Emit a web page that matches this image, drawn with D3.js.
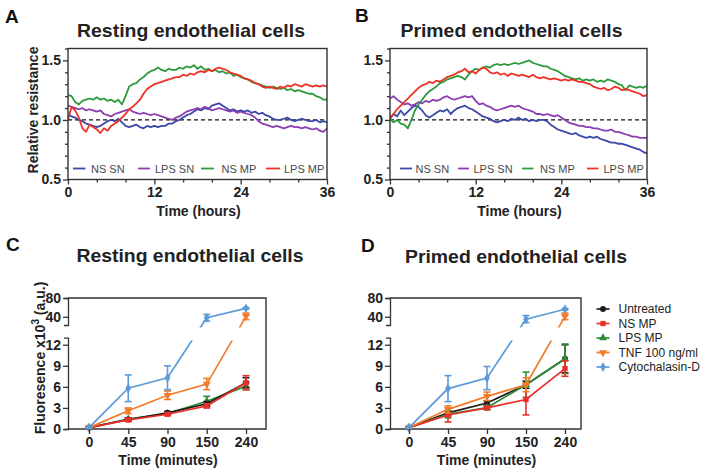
<!DOCTYPE html>
<html><head><meta charset="utf-8">
<script src="https://cdn.jsdelivr.net/npm/d3@7"></script>
<style>body{margin:0;background:#fff} svg text{font-family:Arial,"Liberation Sans",sans-serif}</style>
</head><body><svg id="c" width="706" height="474"></svg>
<script>
// ---------- DATA ----------
const hours = [0,0.5,1,1.5,2,2.5,3,3.5,4,4.5,5,5.5,6,6.5,7,7.5,8,8.5,9,9.5,10,10.5,11,11.5,12,12.5,13,13.5,14,14.5,15,15.5,16,16.5,17,17.5,18,18.5,19,19.5,20,20.5,21,21.5,22,22.5,23,23.5,24,24.5,25,25.5,26,26.5,27,27.5,28,28.5,29,29.5,30,30.5,31,31.5,32,32.5,33,33.5,34,34.5,35,35.5,36];
const hourTicks = [0,12,24,36];
const hourMinor = [4,8,16,20,28,32];
const resTicks = [0.5,1.0,1.5];
const resMinor = [0.6,0.7,0.8,0.9,1.1,1.2,1.3,1.4,1.6];
const resSeriesNames = ["NS SN","LPS SN","NS MP","LPS MP"];

// Resting endothelial cells (A)
const restNSSN = [1.05,1.03,1.02,1.00,0.99,0.97,0.96,0.95,0.94,0.95,
0.97,0.99,1.00,0.99,1.01,0.98,0.95,0.94,0.95,0.96,
0.94,0.93,0.95,0.94,0.95,0.94,0.95,0.95,0.97,0.97,
0.99,1.00,1.02,1.04,1.05,1.07,1.09,1.08,1.10,1.09,
1.12,1.13,1.14,1.12,1.10,1.08,1.09,1.07,1.08,1.07,
1.08,1.06,1.07,1.05,1.06,1.04,1.03,1.01,1.00,1.00,
1.01,1.02,1.00,0.99,1.00,1.01,1.00,0.99,0.99,1.00,
0.98,0.99,0.98];
const restLPSSN = [1.12,1.11,1.10,1.09,1.10,1.08,1.09,1.08,1.07,1.08,
1.05,1.04,1.03,1.05,1.06,1.07,1.08,1.09,1.07,1.06,
1.05,1.06,1.05,1.04,1.05,1.04,1.03,1.02,1.01,1.00,
1.02,1.03,1.05,1.07,1.08,1.09,1.10,1.09,1.11,1.10,
1.08,1.09,1.10,1.09,1.08,1.07,1.08,1.06,1.07,1.06,
1.05,1.04,1.02,0.99,0.97,0.96,0.95,0.94,0.95,0.94,
0.93,0.94,0.95,0.94,0.94,0.93,0.94,0.93,0.92,0.93,
0.91,0.90,0.93];
const restNSMP = [1.21,1.20,1.15,1.13,1.16,1.17,1.18,1.17,1.19,1.17,
1.18,1.16,1.17,1.15,1.17,1.13,1.20,1.28,1.30,1.31,
1.34,1.36,1.39,1.41,1.42,1.44,1.42,1.41,1.43,1.42,
1.42,1.44,1.43,1.45,1.44,1.46,1.43,1.45,1.42,1.43,
1.41,1.42,1.40,1.41,1.39,1.40,1.37,1.38,1.36,1.35,
1.34,1.32,1.31,1.30,1.29,1.28,1.27,1.28,1.27,1.26,
1.27,1.25,1.26,1.24,1.25,1.24,1.23,1.22,1.22,1.20,
1.19,1.17,1.17];
const restLPSMP = [1.00,1.11,1.08,1.02,0.93,0.90,0.96,0.94,0.92,0.89,
0.93,0.91,0.95,0.97,0.99,1.02,1.05,1.09,1.11,1.14,
1.17,1.22,1.26,1.28,1.30,1.31,1.32,1.33,1.34,1.35,
1.36,1.36,1.38,1.37,1.39,1.38,1.40,1.41,1.40,1.42,
1.41,1.43,1.44,1.43,1.42,1.40,1.39,1.38,1.37,1.35,
1.34,1.33,1.31,1.30,1.28,1.27,1.28,1.27,1.26,1.28,
1.27,1.29,1.28,1.30,1.29,1.28,1.30,1.29,1.28,1.29,
1.28,1.29,1.28];

// Primed endothelial cells (B)
const primNSSN = [1.01,1.05,1.03,1.08,1.04,1.07,1.10,1.12,1.11,1.08,
1.04,1.02,1.04,1.06,1.08,1.07,1.09,1.05,1.08,1.10,
1.11,1.12,1.10,1.09,1.07,1.05,1.03,1.02,1.01,0.99,
0.98,0.99,1.00,0.99,1.01,1.00,1.02,1.00,1.01,0.99,
1.00,0.99,1.00,1.00,0.99,0.96,0.94,0.92,0.91,0.90,
0.89,0.88,0.89,0.87,0.86,0.85,0.86,0.85,0.86,0.84,
0.83,0.82,0.81,0.81,0.80,0.80,0.79,0.78,0.77,0.76,
0.75,0.73,0.72];
const primLPSSN = [1.18,1.20,1.17,1.15,1.13,1.14,1.12,1.13,1.15,1.14,
1.16,1.15,1.17,1.16,1.17,1.19,1.20,1.18,1.17,1.18,
1.19,1.20,1.19,1.20,1.16,1.13,1.14,1.12,1.11,1.09,
1.08,1.09,1.10,1.11,1.12,1.11,1.12,1.10,1.09,1.08,
1.07,1.05,1.05,1.04,1.05,1.04,1.03,1.04,1.02,1.00,
0.98,0.97,0.96,0.95,0.95,0.94,0.94,0.93,0.93,0.92,
0.91,0.91,0.92,0.90,0.90,0.89,0.88,0.87,0.86,0.86,
0.85,0.85,0.85];
const primNSMP = [1.01,0.98,1.00,0.97,0.96,0.93,1.00,1.08,1.13,1.17,
1.21,1.24,1.26,1.28,1.31,1.32,1.34,1.35,1.36,1.37,
1.36,1.34,1.38,1.41,1.43,1.42,1.44,1.45,1.44,1.46,
1.47,1.46,1.47,1.46,1.47,1.48,1.47,1.48,1.49,1.50,
1.48,1.47,1.46,1.45,1.45,1.43,1.42,1.41,1.39,1.37,
1.36,1.35,1.34,1.35,1.33,1.34,1.33,1.34,1.32,1.33,
1.32,1.34,1.33,1.32,1.30,1.29,1.25,1.29,1.28,1.27,
1.28,1.27,1.29];
const primLPSMP = [1.02,1.05,1.09,1.12,1.15,1.18,1.21,1.24,1.27,1.29,
1.30,1.32,1.31,1.33,1.32,1.34,1.36,1.37,1.38,1.40,
1.41,1.43,1.40,1.41,1.39,1.42,1.44,1.43,1.40,1.39,
1.40,1.38,1.39,1.37,1.39,1.38,1.37,1.38,1.37,1.36,
1.38,1.36,1.35,1.36,1.35,1.34,1.35,1.34,1.33,1.34,
1.33,1.34,1.33,1.32,1.32,1.31,1.30,1.28,1.27,1.26,
1.27,1.25,1.26,1.28,1.27,1.25,1.26,1.25,1.24,1.23,
1.22,1.20,1.21];

// Fluorescence (C, D)
const timeCats = ["0","45","90","150","240"];
const fluoLowTicks = [0,3,6,9,12];
const fluoHighTicks = [40,80];
const fluoNames = ["Untreated","NS MP","LPS MP","TNF 100 ng/ml","Cytochalasin-D"];

const restUntreated = [0.2,1.35,2.3,3.6,6.6],   restUntreatedErr = [0.1,0.2,0.2,0.3,0.7];
const restNSMPf     = [0.2,1.3,2.1,3.3,6.6],    restNSMPfErr     = [0.1,0.2,0.2,0.3,1.0];
const restLPSMPf    = [0.2,1.4,2.2,3.95,6.1],   restLPSMPfErr    = [0.1,0.2,0.2,0.7,0.5];
const restTNF       = [0.2,2.6,4.8,6.4,41],     restTNFErr       = [0.1,0.4,0.6,0.8,7];
const restCyto      = [0.2,5.8,7.3,38,58],      restCytoErr      = [0.1,1.9,1.7,7,1.5];

const primUntreated = [0.2,2.3,3.7,6.3,10.0],   primUntreatedErr = [0.1,0.3,0.3,0.5,2.0];
const primNSMPf     = [0.2,2.0,3.0,4.2,8.6],    primNSMPfErr     = [0.1,1.0,0.2,2.2,1.1];
const primLPSMPf    = [0.2,2.1,3.05,6.3,10.0],  primLPSMPfErr    = [0.1,0.5,0.3,1.8,2.1];
const primTNF       = [0.2,2.8,4.65,6.3,41],    primTNFErr       = [0.1,0.5,0.6,1.0,7];
const primCyto      = [0.2,5.75,7.25,35,56],    primCytoErr      = [0.1,1.85,1.65,7.5,1.5];

// ---------- STYLE ----------
const resColors = ["#3a48a8","#8b3db2","#2e9a3c","#ee3126"];
const fluoColors = ["#1c1c1c","#e8302a","#2f8c35","#f27b2c","#5b9bd8"];
const fluoSymbols = [d3.symbolCircle,d3.symbolSquare,d3.symbolTriangle,d3.symbolTriangle,d3.symbolDiamond];
const axisColor = "#333";
const svg = d3.select("#c");

function styleAxis(sel){
  sel.attr("font-family","Arial, 'Liberation Sans', sans-serif").attr("font-size",14).attr("font-weight","bold");
  sel.selectAll("text").attr("fill","#222");
  sel.selectAll("line,path").attr("stroke",axisColor).attr("stroke-width",1.3);
}

function text(x,y,str,opt){
  const t = svg.append("text").attr("x",x).attr("y",y).text(str)
    .attr("font-size",opt.size).attr("font-weight",opt.weight||"normal")
    .attr("fill",opt.fill||"#222").attr("text-anchor",opt.anchor||"start");
  if(opt.len){ t.attr("textLength",opt.len).attr("lengthAdjust","spacingAndGlyphs"); }
  return t;
}

// ---------- RESISTANCE PANELS ----------
function resPanel(cfg){
  const top = 48.5, bottom = 179.5;
  const g = svg.append("g");
  const x = d3.scaleLinear().domain([0,36]).range([cfg.left,cfg.right]);
  const y = d3.scaleLinear().domain([0.5,1.6]).range([bottom,top]);
  const cid = "clip"+cfg.id;
  svg.append("clipPath").attr("id",cid).append("rect")
    .attr("x",cfg.left).attr("y",top).attr("width",cfg.right-cfg.left).attr("height",bottom-top);

  g.append("line").attr("x1",x(0)).attr("x2",x(36)).attr("y1",y(1)).attr("y2",y(1))
    .attr("stroke","#111").attr("stroke-width",1.3).attr("stroke-dasharray","4,3");

  const line = d3.line().x((d,i)=>x(hours[i])).y(d=>y(d));
  cfg.series.forEach((s,i)=>{
    g.append("path").datum(s).attr("d",line).attr("fill","none")
      .attr("stroke",resColors[i]).attr("stroke-width",1.8).attr("stroke-linejoin","round")
      .attr("clip-path",`url(#${cid})`);
  });

  // legend
  cfg.legend.forEach((L,i)=>{
    g.append("line").attr("x1",L[0]).attr("x2",L[1]).attr("y1",168.5).attr("y2",168.5)
      .attr("stroke",resColors[i]).attr("stroke-width",1.8);
    g.append("text").attr("x",L[2]).attr("y",172.5).text(resSeriesNames[i])
      .attr("font-size",11).attr("fill","#4a4a4a");
  });

  g.append("rect").attr("x",cfg.left).attr("y",top).attr("width",cfg.right-cfg.left).attr("height",bottom-top)
    .attr("fill","none").attr("stroke",axisColor).attr("stroke-width",1.4);

  const xa = g.append("g").attr("transform",`translate(0,${bottom})`)
    .call(d3.axisBottom(x).tickValues(hourTicks).tickSize(5).tickPadding(3).tickFormat(d3.format("d")));
  xa.select(".domain").remove(); styleAxis(xa);
  const xm = g.append("g").attr("transform",`translate(0,${bottom})`)
    .call(d3.axisBottom(x).tickValues(hourMinor).tickSize(3).tickFormat(""));
  xm.select(".domain").remove(); styleAxis(xm);
  const ya = g.append("g").attr("transform",`translate(${cfg.left},0)`)
    .call(d3.axisLeft(y).tickValues(resTicks).tickSize(5).tickPadding(2).tickFormat(d3.format(".1f")));
  ya.select(".domain").remove(); styleAxis(ya);
  const ym = g.append("g").attr("transform",`translate(${cfg.left},0)`)
    .call(d3.axisLeft(y).tickValues(resMinor).tickSize(3).tickFormat(""));
  ym.select(".domain").remove(); styleAxis(ym);

  text((cfg.left+cfg.right)/2+1,216,"Time (hours)",{size:14,weight:"bold",anchor:"middle"});
}

resPanel({id:"A",left:68,right:327,series:[restNSSN,restLPSSN,restNSMP,restLPSMP],
  legend:[[73,85.5,91],[138,150,155],[201,214,221.5],[266,280,284]]});
resPanel({id:"B",left:390,right:647,series:[primNSSN,primLPSSN,primNSMP,primLPSMP],
  legend:[[400,412,415.5],[458,469,473.5],[522,533.5,540],[587,598.5,603.5]]});

svg.append("text").attr("transform","translate(38,110) rotate(-90)").attr("text-anchor","middle")
  .attr("font-size",14).attr("font-weight","bold").attr("fill","#222").text("Relative resistance");

// ---------- FLUORESCENCE PANELS ----------
function fluoPanel(cfg){
  const top = 298, bottom = 429;
  const g = svg.append("g");
  const x = d3.scalePoint().domain(timeCats).range(cfg.xr);
  const y = d3.scaleLinear().domain([0,13,22.5,80]).range([bottom,337.7,325,top]);
  const yLow = d3.scaleLinear().domain([0,13]).range([bottom,337.7]);
  const yHigh = d3.scaleLinear().domain([22.5,80]).range([325,top]);
  const cid = "clip"+cfg.id;
  const cp = svg.append("clipPath").attr("id",cid);
  cp.append("rect").attr("x",cfg.left).attr("y",top-10).attr("width",cfg.right-cfg.left).attr("height",327.5-(top-10));
  cp.append("rect").attr("x",cfg.left).attr("y",340.5).attr("width",cfg.right-cfg.left).attr("height",bottom+10-340.5);

  // box (top, right, bottom)
  g.append("path").attr("d",`M${cfg.left},${top}H${cfg.right}V${bottom}H${cfg.left}`)
    .attr("fill","none").attr("stroke",axisColor).attr("stroke-width",1.4);

  const line = d3.line().x((d,i)=>x(timeCats[i])).y(d=>y(d));
  cfg.order.forEach(k=>{
    const s = cfg.series[k], col = fluoColors[k];
    g.append("path").datum(s.v).attr("d",line).attr("fill","none").attr("stroke",col)
      .attr("stroke-width",1.7).attr("clip-path",`url(#${cid})`);
    s.v.forEach((v,i)=>{
      const e = s.e[i], cx = x(timeCats[i]);
      const y1 = y(v-e), y2 = y(v+e);
      g.append("line").attr("x1",cx).attr("x2",cx).attr("y1",y1).attr("y2",y2).attr("stroke",col).attr("stroke-width",1.6);
      [y1,y2].forEach(yy=>g.append("line").attr("x1",cx-3.5).attr("x2",cx+3.5).attr("y1",yy).attr("y2",yy)
        .attr("stroke",col).attr("stroke-width",1.6));
      g.append("path").attr("d",d3.symbol().type(fluoSymbols[k]).size(28)())
        .attr("transform",`translate(${cx},${y(v)})${k===3?" rotate(180)":""}`).attr("fill",col);
    });
  });

  const xa = g.append("g").attr("transform",`translate(0,${bottom})`)
    .call(d3.axisBottom(x).tickSize(5).tickPadding(3));
  xa.select(".domain").remove(); styleAxis(xa);
  const yl = g.append("g").attr("transform",`translate(${cfg.left},0)`)
    .call(d3.axisLeft(yLow).tickValues(fluoLowTicks).tickSize(5).tickSizeOuter(4).tickPadding(2));
  styleAxis(yl);
  const yh = g.append("g").attr("transform",`translate(${cfg.left},0)`)
    .call(d3.axisLeft(yHigh).tickValues(fluoHighTicks).tickSize(5).tickSizeOuter(4).tickPadding(2));
  styleAxis(yh);

  text((cfg.left+cfg.right)/2+1,464.5,"Time (minutes)",{size:14,weight:"bold",anchor:"middle"});
}

fluoPanel({id:"C",left:68,right:266,xr:[89,246],order:[2,0,1,3,4],series:[
  {v:restUntreated,e:restUntreatedErr},{v:restNSMPf,e:restNSMPfErr},{v:restLPSMPf,e:restLPSMPfErr},
  {v:restTNF,e:restTNFErr},{v:restCyto,e:restCytoErr}]});
fluoPanel({id:"D",left:390,right:581,xr:[409,565],order:[0,2,1,3,4],series:[
  {v:primUntreated,e:primUntreatedErr},{v:primNSMPf,e:primNSMPfErr},{v:primLPSMPf,e:primLPSMPfErr},
  {v:primTNF,e:primTNFErr},{v:primCyto,e:primCytoErr}]});

// y label C
const yl = svg.append("text").attr("transform","translate(45,358) rotate(-90)").attr("text-anchor","middle")
  .attr("font-size",14).attr("font-weight","bold").attr("fill","#222");
yl.append("tspan").text("Fluoresence x10");
yl.append("tspan").attr("dy",-6).attr("font-size",10).text("3");
yl.append("tspan").attr("dy",6).text(" (a.u.)");

// legend D
const legRows = [309,323.5,338,352.5,367];
fluoNames.forEach((n,k)=>{
  const yy = legRows[k];
  svg.append("line").attr("x1",596.5).attr("x2",609.5).attr("y1",yy).attr("y2",yy).attr("stroke",fluoColors[k]).attr("stroke-width",1.7);
  svg.append("path").attr("d",d3.symbol().type(fluoSymbols[k]).size(28)())
    .attr("transform",`translate(603,${yy})${k===3?" rotate(180)":""}`).attr("fill",fluoColors[k]);
  svg.append("text").attr("x",618.5).attr("y",yy+4.3).text(n).attr("font-size",12).attr("fill","#222");
});

// ---------- TITLES & PANEL LETTERS ----------
text(191,36.5,"Resting endothelial cells",{size:18.5,weight:"bold",anchor:"middle",len:228});
text(511.5,36.5,"Primed endothelial cells",{size:18.5,weight:"bold",anchor:"middle",len:222});
text(190,262,"Resting endothelial cells",{size:18.5,weight:"bold",anchor:"middle",len:227});
text(516,262.5,"Primed endothelial cells",{size:18.5,weight:"bold",anchor:"middle",len:222});
text(5,23,"A",{size:19,weight:"bold",fill:"#111"});
text(355,22,"B",{size:19,weight:"bold",fill:"#111"});
text(6,251,"C",{size:19,weight:"bold",fill:"#111"});
text(361,252,"D",{size:19,weight:"bold",fill:"#111"});
</script></body></html>
